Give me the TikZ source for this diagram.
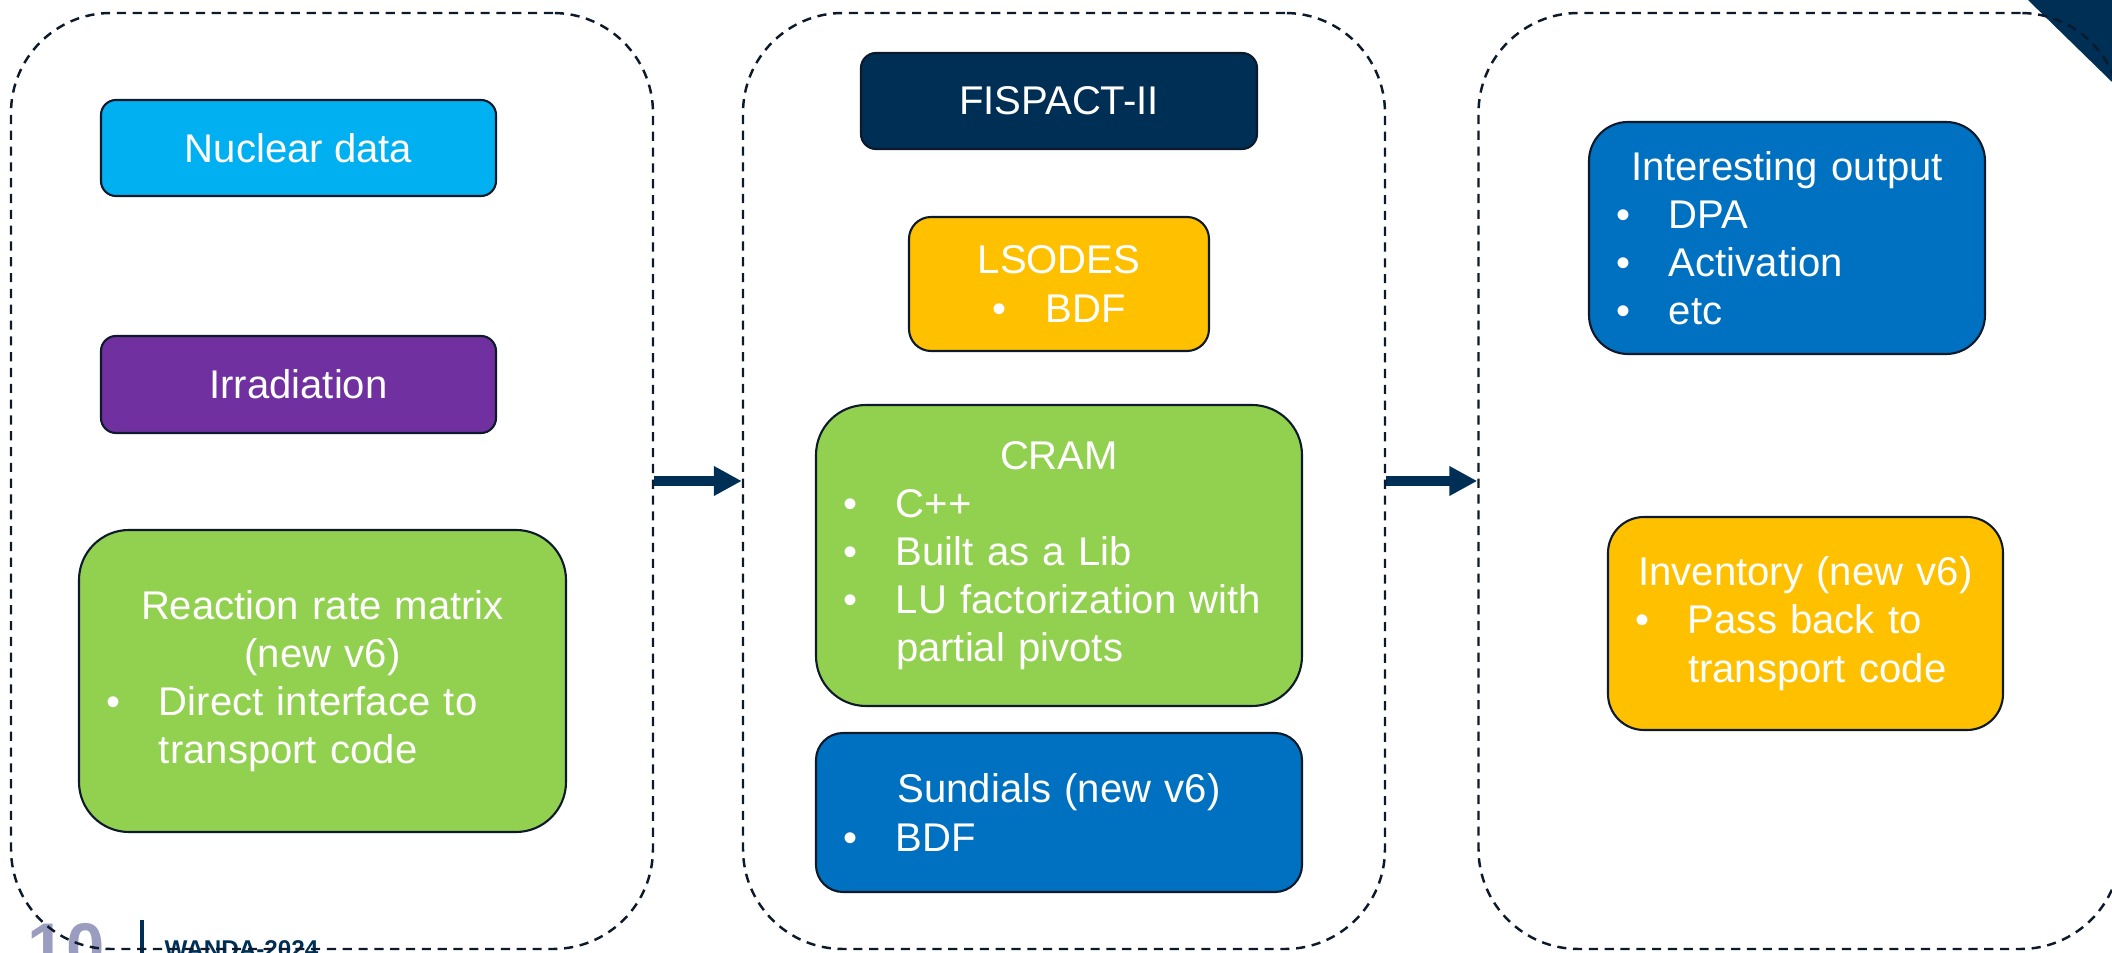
\documentclass[tikz,border=0pt]{standalone}
\usepackage{fontspec}
\setmainfont{Liberation Sans}
\usetikzlibrary{arrows.meta}

\definecolor{navy}{HTML}{002F56}
\definecolor{outline}{HTML}{0D1A2B}
\definecolor{cyanfill}{HTML}{00B0F0}
\definecolor{purplefill}{HTML}{7030A0}
\definecolor{greenfill}{HTML}{92D050}
\definecolor{orangefill}{HTML}{FFC000}
\definecolor{bluefill}{HTML}{0070C0}
\definecolor{lavender}{HTML}{9A9CC0}

\newcommand{\ttl}[1]{{\centering #1\par}}
\newcommand{\itm}[1]{{\leftskip=0.8cm\noindent\llap{\makebox[0.53cm][l]{\textbullet}}#1\par}}

\tikzset{
  panel/.style={draw=outline, line width=0.7pt, dash pattern=on 2.6pt off 1.9pt,
    rounded corners=1cm, minimum width=6.42cm, minimum height=9.36cm, inner sep=0pt},
  blk/.style={draw=outline, line width=0.6pt, text=white, inner sep=0pt,
    font=\fontsize{11.4}{13.7}\selectfont},
  list/.style={blk, text width=#1, minimum width=#1, align=left},
  flow/.style={navy, line width=0.1cm, -{Triangle[length=0.28cm,width=0.28cm]}}
}

\begin{document}
\begin{tikzpicture}
    \useasboundingbox (0,0) rectangle (21.12,-9.53);
    \clip (0,0) rectangle (21.12,-9.53);

    \node[anchor=base west, inner sep=0pt, text=lavender, font=\bfseries\fontsize{19.6}{20}\selectfont] (slideno) at (0.27,-9.71) {10};
    \draw[navy, line width=0.04cm] (1.42,-9.2) -- (1.42,-9.6);
    \node[anchor=base west, inner sep=0pt, text=navy, font=\bfseries\fontsize{6.9}{8}\selectfont] (event) at (1.64,-9.57) {WANDA-2024};
    \fill[navy] (20.28,0) -- (21.12,0) -- (21.12,-0.82) -- cycle;

    \node[panel] (inputs) at (3.32,-4.81) {};
    \node[panel] (solvers) at (10.64,-4.81) {};
    \node[panel] (results) at (17.995,-4.81) {};

    \draw[flow] (inputs) -- (solvers);
    \draw[flow] (solvers) -- (results);

    \node[blk, fill=cyanfill, rounded corners=0.15cm, minimum width=3.95cm, minimum height=0.96cm] (nucdata) at (2.985,-1.48) {Nuclear data};
    \node[blk, fill=purplefill, rounded corners=0.15cm, minimum width=3.95cm, minimum height=0.97cm] (irrad) at (2.985,-3.845) {Irradiation};
    \node[list=4.87cm, fill=greenfill, rounded corners=0.5cm, minimum height=3.02cm] (rrmatrix) at (3.225,-6.81)
        {\ttl{Reaction rate matrix\\(new v6)}\itm{Direct interface to\\transport code}};

    \node[blk, fill=navy, rounded corners=0.15cm, minimum width=3.96cm, minimum height=0.96cm] (fispact) at (10.59,-1.01) {FISPACT-II};
    \node[list=3.0cm, fill=orangefill, rounded corners=0.22cm, minimum height=1.34cm] (lsodes) at (10.59,-2.84)
        {\ttl{LSODES\\\textbullet\hspace{0.39cm}BDF}};
    \node[list=4.86cm, fill=greenfill, rounded corners=0.5cm, minimum height=3.01cm] (cram) at (10.59,-5.555)
        {\ttl{CRAM}\itm{C++}\itm{Built as a Lib}\itm{LU factorization with\\partial pivots}};
    \node[list=4.86cm, fill=bluefill, rounded corners=0.27cm, minimum height=1.59cm] (sundials) at (10.59,-8.125)
        {\ttl{Sundials (new v6)}\itm{BDF}};

    \node[list=3.96cm, fill=bluefill, rounded corners=0.39cm, minimum height=2.32cm] (output) at (17.87,-2.38)
        {\ttl{Interesting output}\itm{DPA}\itm{Activation}\itm{etc}};
    \node[list=3.95cm, fill=orangefill, rounded corners=0.36cm, minimum height=2.13cm] (inventory) at (18.055,-6.235)
        {\ttl{Inventory (new v6)}\itm{Pass back to\\transport code}};
\end{tikzpicture}
\end{document}
